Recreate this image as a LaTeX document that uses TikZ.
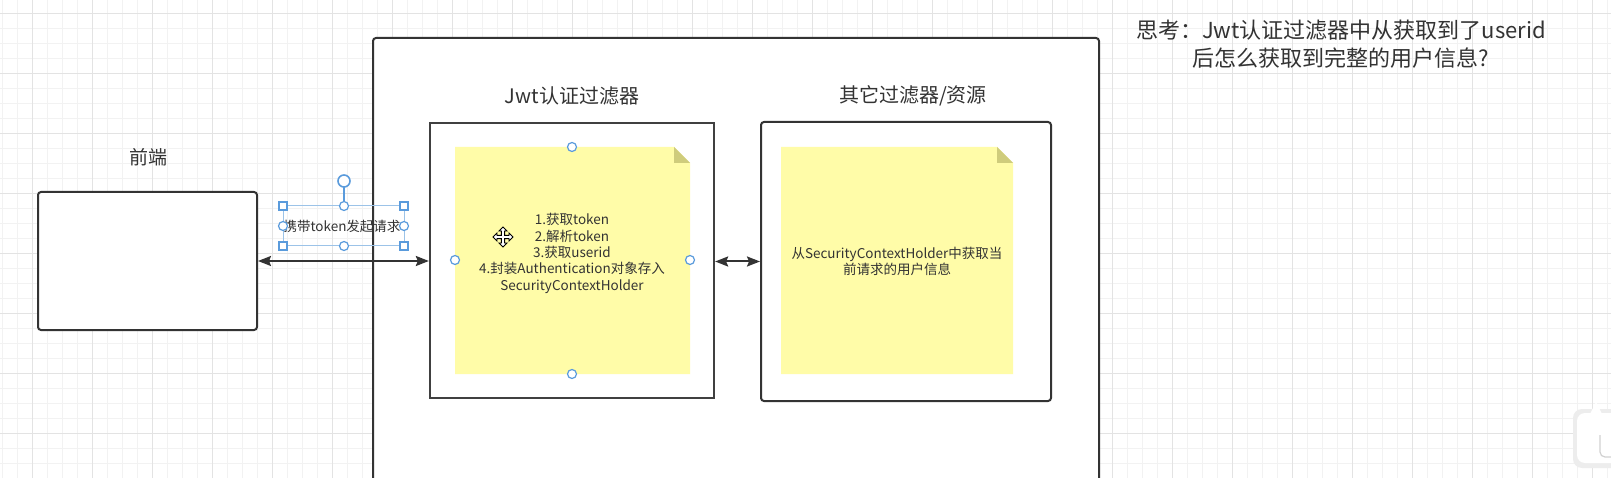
\documentclass[tikz,border=0pt]{standalone}
\usepackage{fontspec}
\setmainfont{Noto Sans CJK SC}
\usetikzlibrary{arrows.meta}
\definecolor{ink}{HTML}{333333}
\definecolor{gridminor}{HTML}{F2F2F2}
\definecolor{gridmajor}{HTML}{E3E3E3}
\definecolor{noteyellow}{HTML}{FFFCA8}
\definecolor{notefold}{HTML}{CFCC7C}
\definecolor{handleblue}{HTML}{5A9BDC}
\definecolor{selblue}{HTML}{9CC3E8}
\tikzset{
  boxsq/.style={draw=ink, line width=2pt, fill=white, inner sep=0pt},
  boxrd/.style={boxsq, rounded corners=3pt},
  lbl/.style={text=ink, inner sep=0pt, font=\fontsize{20}{24}\selectfont},
  notetext/.style={text=ink, inner sep=0pt, align=center, font=\fontsize{13.5}{16.3}\selectfont},
  dbl/.style={draw=ink, line width=2pt, {Stealth[length=13pt,width=10pt,inset=2pt]}-{Stealth[length=13pt,width=10pt,inset=2pt]}},
  hcirc/.style={circle, draw=handleblue, line width=1.2pt, fill=white, minimum size=9pt, inner sep=0pt},
  hsq/.style={rectangle, draw=handleblue, line width=1.1pt, fill=white, minimum size=8pt, inner sep=0pt},
}
\begin{document}
\begin{tikzpicture}[x=1pt, y=-1pt]
\useasboundingbox (0,0) rectangle (1611,478);
\clip (0,0) rectangle (1611,478);
% background grid
\fill[white] (0,0) rectangle (1611,478);
\foreach \gx in {2,17,...,1611} \draw[gridminor, line width=0.8pt] (\gx,0) -- (\gx,478);
\foreach \gy in {13,28,...,478} \draw[gridminor, line width=0.8pt] (0,\gy) -- (1611,\gy);
\foreach \gx in {32,92,...,1611} \draw[gridmajor, line width=0.9pt] (\gx,0) -- (\gx,478);
\foreach \gy in {13,73,...,478} \draw[gridmajor, line width=0.9pt] (0,\gy) -- (1611,\gy);

% outer container (bottom runs off the page)
\draw[ink, line width=2pt, fill=white, rounded corners=3pt] (373,500) -- (373,38) -- (1099,38) -- (1099,500);

% front end box
\node[boxrd, minimum width=219pt, minimum height=138pt] (fe) at (147.5,261) {};
\node[lbl, font=\fontsize{19}{23}\selectfont] (felbl) at (148,157) {前端};

% Jwt filter box
\node[boxsq, line width=2.3pt, draw=black!75, minimum width=284pt, minimum height=275pt] (jwt) at (572,260.5) {};
\node[lbl] (jwtlbl) at (572,96) {Jwt认证过滤器};

% other filters box
\node[boxrd, minimum width=290pt, minimum height=279pt] (oth) at (906,261.5) {};
\node[lbl] (othlbl) at (913,96) {其它过滤器/资源};

% notes
\fill[noteyellow] (455,147) -- (674,147) -- (690,163) -- (690,374) -- (455,374) -- cycle;
\fill[notefold] (674,147) -- (674,163) -- (690,163) -- cycle;
\fill[noteyellow] (781,147) -- (997,147) -- (1013,163) -- (1013,374) -- (781,374) -- cycle;
\fill[notefold] (997,147) -- (997,163) -- (1013,163) -- cycle;

\node[notetext] (n1) at (572,253.5) {1.获取token\\2.解析token\\3.获取userid\\4.封装Authentication对象存入\\SecurityContextHolder};
\node[notetext] (n2) at (897,261.5) {从SecurityContextHolder中获取当\\前请求的用户信息};

% connectors
\draw[dbl] (fe.east) -- (fe.east -| jwt.west);
\draw[dbl] (jwt.east |- oth.west) -- (oth.west);

% selected edge label with handles
\node[text=ink, inner sep=0pt, font=\fontsize{13.5}{16}\selectfont] (req) at (342,226) {携带token发起请求};
\draw[selblue, line width=1pt] (283,206) rectangle (404,246);
\coordinate (rotc) at (344,181);
\draw[handleblue, line width=1.4pt] (rotc) -- (344,206);
\node[hcirc, minimum size=12pt, line width=1.6pt] (rot) at (rotc) {};
\foreach \hx/\hy in {283/206,404/206,283/246,404/246} \node[hsq] at (\hx,\hy) {};
\foreach \hx/\hy in {344/206,344/246,283/226,404/226} \node[hcirc] at (\hx,\hy) {};

% handles on the Jwt note
\foreach \hx/\hy in {572/147,455/260,690/260,572/374} \node[hcirc] at (\hx,\hy) {};

% move cursor
\begin{scope}[shift={(503,237)}]
\draw[black, fill=white, line width=0.9pt, line join=miter]
 (0,-10) -- (4,-6) -- (1.6,-6) -- (1.6,-1.6) -- (6,-1.6) -- (6,-4) -- (10,0) -- (6,4) -- (6,1.6) -- (1.6,1.6) -- (1.6,6) -- (4,6) -- (0,10) -- (-4,6) -- (-1.6,6) -- (-1.6,1.6) -- (-6,1.6) -- (-6,4) -- (-10,0) -- (-6,-4) -- (-6,-1.6) -- (-1.6,-1.6) -- (-1.6,-6) -- (-4,-6) -- cycle;
\end{scope}

% question text
\node[text=ink, inner sep=0pt, align=center, font=\fontsize{22}{28}\selectfont] (q) at (1341,44) {思考：Jwt认证过滤器中从获取到了userid\\后怎么获取到完整的用户信息?};

% floating widget at the lower right
\fill[black!7, rounded corners=9pt] (1573,409) rectangle (1630,468);
\fill[white, rounded corners=8pt] (1577,413) rectangle (1630,463);
\fill[white] (1590,414) -- (1596,402) -- (1602,414) -- cycle;
\draw[black!18, line width=1.2pt, rounded corners=5pt] (1600,435) -- (1600,457) -- (1616,457);
\end{tikzpicture}
\end{document}
